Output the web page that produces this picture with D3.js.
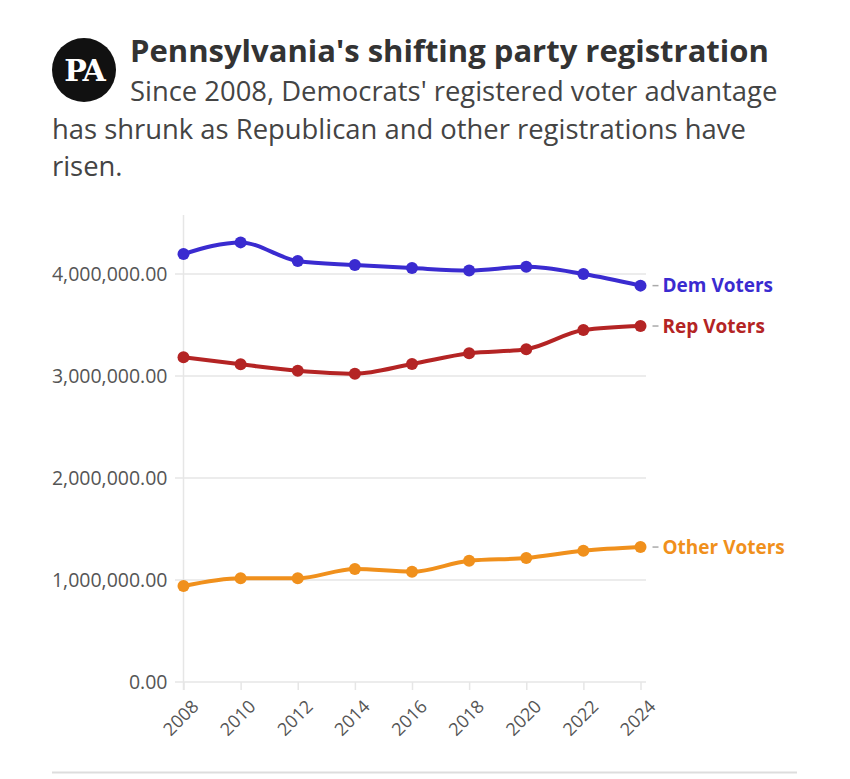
<!DOCTYPE html>
<html><head><meta charset="utf-8">
<script src="https://cdn.jsdelivr.net/npm/d3@7"></script>
<style>
body{margin:0;background:#fff;}
svg text{font-family:"Open Sans","Noto Sans",sans-serif;}
</style></head>
<body><svg id="c" width="850" height="779"></svg>
<script>
const years = [2008,2010,2012,2014,2016,2018,2020,2022,2024];
const demVoters = [4196000,4310000,4127000,4088000,4058000,4035000,4070000,4000000,3886000];
const repVoters = [3183000,3115000,3052000,3023000,3118000,3222000,3262000,3450000,3490000];
const otherVoters = [941000,1017000,1017000,1108000,1081000,1189000,1216000,1287000,1323000];
const seriesNames = ["Dem Voters","Rep Voters","Other Voters"];
const seriesColors = ["#3a2bd0","#b42424","#f0901c"];
const yTicks = [0,1000000,2000000,3000000,4000000];

const series = [demVoters,repVoters,otherVoters].map((v,i)=>({name:seriesNames[i],color:seriesColors[i],values:v}));

const svg = d3.select("#c");
// header
svg.append("circle").attr("cx",84).attr("cy",70).attr("r",32).attr("fill","#111");
svg.append("text").attr("x",84).attr("y",81).attr("text-anchor","middle")
  .attr("fill","#fff").style("font-family","'DejaVu Serif','Liberation Serif',serif")
  .style("font-weight","bold").style("font-size","30px").style("letter-spacing","-2px").text("PA");
svg.append("text").attr("x",130).attr("y",62).attr("fill","#333")
  .style("font-weight","bold").style("font-size","31px").text("Pennsylvania's shifting party registration");
const sub = ["Since 2008, Democrats' registered voter advantage","has shrunk as Republican and other registrations have","risen."];
const subX=[130,52,52], subY=[101,139,176];
sub.forEach((s,i)=>svg.append("text").attr("x",subX[i]).attr("y",subY[i]).attr("fill","#444")
  .style("font-size","27.4px").text(s));

const x = d3.scaleLinear().domain([2008,2024]).range([183.5,640.5]);
const y = d3.scaleLinear().domain([0,4000000]).range([682,274]);

// grid
const g = svg.append("g");
g.selectAll(".grid").data(yTicks).join("line")
  .attr("x1",175).attr("x2",646).attr("y1",d=>y(d)).attr("y2",d=>y(d))
  .attr("stroke","#e6e6e6").attr("stroke-width",1.5);
g.append("line").attr("x1",x(2008)).attr("x2",x(2008)).attr("y1",215).attr("y2",690)
  .attr("stroke","#e6e6e6").attr("stroke-width",1.5);

const yAxis = d3.axisLeft(y).tickValues(yTicks).tickSize(0).tickPadding(16).tickFormat(d3.format(",.2f"));
const ya = svg.append("g").attr("transform","translate(183.5,0)").call(yAxis);
ya.select(".domain").remove();
ya.selectAll("text").attr("fill","#555").style("font-size","19.5px");

const xAxis = d3.axisBottom(x).tickValues(years).tickSize(8).tickFormat(d3.format("d"));
const xa = svg.append("g").attr("transform","translate(0,682)").call(xAxis);
xa.select(".domain").remove();
xa.selectAll("line").attr("stroke","#e6e6e6").attr("stroke-width",1.5);
xa.selectAll("text").attr("fill","#555").style("font-size","18px")
  .attr("text-anchor","end").attr("dx","0").attr("dy","0")
  .attr("transform","translate(8,18) rotate(-45)");

const line = d3.line().x((d,i)=>x(years[i])).y(d=>y(d)).curve(d3.curveMonotoneX);
series.forEach(s=>{
  svg.append("path").attr("d",line(s.values)).attr("fill","none")
    .attr("stroke",s.color).attr("stroke-width",4);
  svg.selectAll(null).data(s.values).join("circle")
    .attr("cx",(d,i)=>x(years[i])).attr("cy",d=>y(d)).attr("r",6).attr("fill",s.color);
  const last = s.values[s.values.length-1];
  svg.append("line").attr("x1",x(2024)+12).attr("x2",x(2024)+18)
    .attr("y1",y(last)).attr("y2",y(last)).attr("stroke","#aaa").attr("stroke-width",1.5);
  svg.append("text").attr("x",x(2024)+22).attr("y",y(last)).attr("dy","0.35em")
    .attr("fill",s.color).style("font-weight","bold").style("font-size","19px").text(s.name);
});

svg.append("line").attr("x1",52).attr("x2",797).attr("y1",772.5).attr("y2",772.5)
  .attr("stroke","#ddd").attr("stroke-width",2);
</script></body></html>
